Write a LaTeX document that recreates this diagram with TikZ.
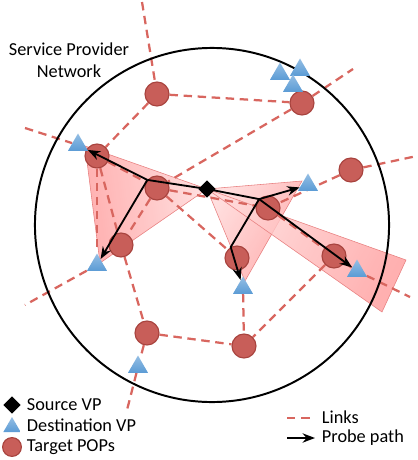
\documentclass[tikz,border=0pt]{standalone}
\usepackage{fontspec}
\setmainfont{Carlito}
\usepackage{tikz}
\usetikzlibrary{arrows.meta,shapes.geometric,backgrounds}
\definecolor{popred}{HTML}{C85E59}
\definecolor{popedge}{HTML}{A8433E}
\definecolor{linkred}{HTML}{D8665F}
\definecolor{vpblue}{HTML}{5B9BD5}
\definecolor{conefill}{HTML}{FF9C9C}
\definecolor{coneedge}{HTML}{E88080}

\begin{document}
\begin{tikzpicture}[x=0.025cm,y=-0.025cm,>={Stealth[]},font=\fontsize{13}{15.6}\selectfont,
  pop/.style={circle,fill=popred,draw=popedge,line width=0.8pt,minimum size=0.6cm,inner sep=0pt},
  dst/.style={regular polygon,regular polygon sides=3,top color=vpblue!65!white,bottom color=vpblue,minimum size=0.575cm,inner sep=0pt},
  srcvp/.style={diamond,fill=black,minimum size=0.44cm,inner sep=0pt},
  link/.style={linkred,line width=1.6pt,dash pattern=on 6pt off 4pt},
  probe/.style={black,line width=1.3pt},
  cone/.style={draw=coneedge,line width=0.4pt,top color=conefill,bottom color=conefill!40!white,fill opacity=0.8}]
  \useasboundingbox (0,0) rectangle (417,460);

  % provider network
  \draw[line width=1.4pt] (212,225) circle[radius=4.425cm];
  \node[align=center] (net) at (69,60) {Service Provider\\Network};

  % target POPs
  \node[pop] (p1) at (157,94) {};
  \node[pop] (p2) at (302,103) {};
  \node[pop] (p3) at (97,156) {};
  \node[pop] (p4) at (157,188) {};
  \node[pop] (p5) at (351,170) {};
  \node[pop] (p6) at (268,208) {};
  \node[pop] (p7) at (121,245) {};
  \node[pop] (p8) at (237,258) {};
  \node[pop] (p9) at (334,256) {};
  \node[pop] (p10) at (147,333) {};
  \node[pop] (p11) at (244,346) {};

  % destination and source VPs
  \node[dst] (t1) at (78,145) {};
  \node[dst] (t2) at (97,265) {};
  \node[dst] (t3) at (308,185) {};
  \node[dst] (t4) at (243,288) {};
  \node[dst] (t5) at (357,271) {};
  \node[dst] (t6) at (138,367) {};
  \node[dst] (t7) at (280,74) {};
  \node[dst] (t8) at (300,70) {};
  \node[dst] (t9) at (293,86) {};
  \node[srcvp] (src) at (207,189) {};

  % loose link ends
  \coordinate (e1) at (142,2);
  \coordinate (e2) at (25,128);
  \coordinate (e3) at (25,305);
  \coordinate (e4) at (353,69);
  \coordinate (e5) at (417,156);
  \coordinate (e6) at (410,297);
  \coordinate (e7) at (127,410);

  \begin{scope}[on background layer]
    \path[cone,shading angle=97] (src.center) -- (85,146) -- (100,263) -- cycle;
    \path[cone,shading angle=-122] (src.center) -- (302,181) -- (245,281) -- cycle;
    \path[cone,shading angle=-117] (src.center) -- (406,260) -- (382,312) -- cycle;
    \foreach \a/\b in {e1/p1,p1/p2,p1/p3,p2/e4,p2/p4,e2/t1,p3/p4,p3/t2,p3/p7,p4/p7,p4/p8,p4/p6,
                       p5/e5,p5/p6,p6/p9,p9/t5,t5/e6,p9/p11,t4/p11,p10/p11,p7/p10,p10/t6,t6/e7,t2/e3}
      \draw[link] (\a) -- (\b);
  \end{scope}

  % probe paths
  \draw[probe] (src.center) -- (p4.140);
  \draw[probe,->] (p4.140) -- (t1);
  \draw[probe,->] (p4.140) -- (t2);
  \draw[probe] (src.center) -- (p6.135);
  \draw[probe,->] (p6.135) -- (t3);
  \draw[probe,->] (p6.135) -- (p8.120) -- (t4);
  \draw[probe,->] (p6.135) -- (t5);

  % legend
  \node[srcvp] (lsrc) at (12,405) {};
  \node[anchor=west] (lsrctxt) at (22,405) {Source VP};
  \node[dst,minimum size=0.5cm] (ldst) at (12,427) {};
  \node[anchor=west] (ldsttxt) at (22,425) {Destination VP};
  \node[pop,minimum size=0.47cm] (lpop) at (12,447) {};
  \node[anchor=west] (lpoptxt) at (22,447) {Target POPs};
  \coordinate (lk1) at (287,418);
  \coordinate (lk2) at (314,418);
  \draw[link] (lk1) -- (lk2);
  \node[anchor=west] (lktxt) at (317,417) {Links};
  \coordinate (pr1) at (287,438);
  \coordinate (pr2) at (315,438);
  \draw[probe,->] (pr1) -- (pr2);
  \node[anchor=west] (prtxt) at (317,438) {Probe path};
\end{tikzpicture}
\end{document}
